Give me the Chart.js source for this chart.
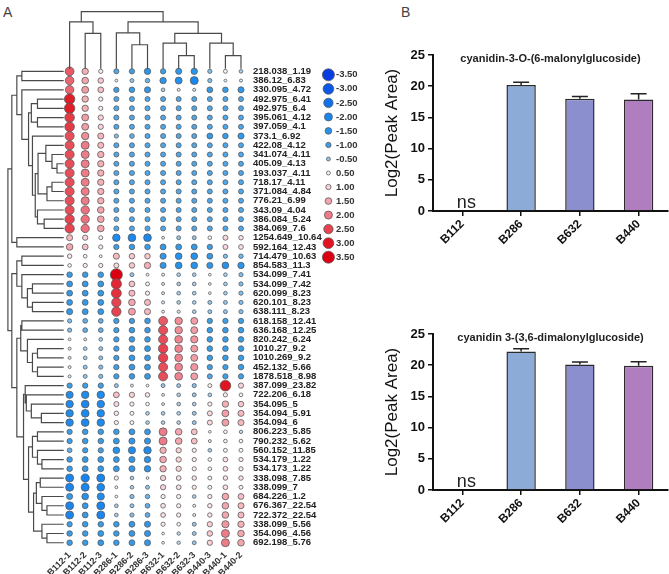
<!DOCTYPE html>
<html>
<head>
<meta charset="utf-8">
<script src="https://cdn.jsdelivr.net/npm/chart.js@4.4.1/dist/chart.umd.min.js"></script>
<style>
  body { margin: 0; background: #fff; width: 669px; height: 574px; position: relative; overflow: hidden; font-family: 'Liberation Sans', Arial, sans-serif; }
  canvas { position: absolute; }
  .panel { position: absolute; font-size: 14px; color: #444; line-height: 14px; }
</style>
</head>
<body>
<div class="panel" style="left:3px;top:5px;">A</div>
<div class="panel" style="left:401px;top:5px;">B</div>
<canvas id="heatChart" width="330" height="574" style="left:0;top:0"></canvas>
<canvas id="legendChart" width="70" height="210" style="left:315px;top:61px"></canvas>
<canvas id="malonylChart" width="287" height="220" style="left:382px;top:40px"></canvas>
<canvas id="dimalonylChart" width="287" height="220" style="left:382px;top:319px"></canvas>
<script>
// muestras (columnas) y metabolitos (filas)
const colLabels = ['B112-1', 'B112-2', 'B112-3', 'B286-1', 'B286-2', 'B286-3', 'B632-1', 'B632-2', 'B632-3', 'B440-3', 'B440-1', 'B440-2'];
const rowLabels = [
    '218.038_1.19', '386.12_6.83', '330.095_4.72', '492.975_6.41', '492.975_6.4', '395.061_4.12', '397.059_4.1',
    '373.1_6.92', '422.08_4.12', '341.074_4.11', '405.09_4.13', '193.037_4.11', '718.17_4.11', '371.084_4.84',
    '776.21_6.99', '343.09_4.04', '386.084_5.24', '384.069_7.6', '1254.649_10.64', '592.164_12.43', '714.479_10.63',
    '854.583_11.3', '534.099_7.41', '534.099_7.42', '620.099_8.23', '620.101_8.23', '638.111_8.23', '618.158_12.41',
    '636.168_12.25', '820.242_6.24', '1010.27_9.2', '1010.269_9.2', '452.132_5.66', '1878.518_8.98', '387.099_23.82',
    '722.206_6.18', '354.095_5', '354.094_5.91', '354.094_6', '806.223_5.85', '790.232_5.62', '560.152_11.85',
    '534.179_1.22', '534.173_1.22', '338.098_7.85', '338.099_7', '684.226_1.2', '676.367_22.54', '722.372_22.54',
    '338.099_5.56', '354.096_4.56', '692.198_5.76'
];

// valores escalados (una fila por metabolito, en el orden de colLabels)
const zScores = [
    [2.3, 1.4, 0.6, -0.9, -1.0, -1.4, -1.0, -1.3, -1.4, -0.6, 0.5, -0.4],
    [2.2, 1.5, 1.1, -0.1, -0.5, -0.7, -1.4, -1.6, -2.0, -0.6, -0.1, -0.2],
    [2.2, 1.6, 1.2, -1.0, -1.1, -1.3, -0.4, -0.15, -0.2, -1.2, -1.1, -1.3],
    [2.9, 1.4, 0.6, -0.9, -0.9, -0.9, -0.9, -0.9, -0.9, -0.9, -0.9, -0.9],
    [2.9, 1.4, 0.6, -0.9, -0.9, -0.9, -0.9, -0.9, -0.9, -0.9, -0.9, -0.9],
    [2.6, 1.6, 1.0, -0.9, -0.9, -0.9, -0.9, -0.9, -0.9, -0.9, -0.9, -0.9],
    [2.6, 1.6, 1.0, -0.9, -0.9, -0.9, -0.9, -0.9, -0.9, -0.9, -0.9, -0.9],
    [2.4, 1.8, 1.3, -0.6, -0.8, -0.9, -0.9, -0.9, -0.9, -1.2, -1.1, -1.3],
    [2.4, 2.0, 1.3, -0.9, -0.9, -0.9, -0.9, -0.9, -0.9, -0.9, -0.9, -0.9],
    [2.4, 2.0, 1.4, -0.9, -0.9, -0.9, -0.9, -0.9, -0.9, -0.9, -0.9, -0.9],
    [2.4, 2.0, 1.4, -0.9, -0.9, -0.9, -0.9, -0.9, -0.9, -0.9, -0.9, -0.9],
    [2.4, 2.0, 1.4, -0.9, -0.9, -0.9, -0.9, -0.9, -0.9, -0.9, -0.9, -0.9],
    [2.4, 2.0, 1.4, -0.9, -0.9, -0.9, -0.9, -0.9, -0.9, -0.9, -0.9, -0.9],
    [2.4, 2.0, 1.4, -0.9, -0.9, -0.9, -0.9, -0.9, -0.9, -0.9, -0.9, -0.9],
    [2.4, 2.0, 1.4, -0.9, -0.9, -0.9, -0.9, -0.9, -0.9, -0.9, -0.9, -0.9],
    [2.4, 2.1, 1.5, -0.9, -0.9, -0.9, -0.9, -0.9, -0.9, -0.9, -0.9, -0.9],
    [2.5, 2.1, 1.5, -0.8, -0.9, -0.9, -0.9, -0.9, -0.9, -0.9, -0.9, -0.9],
    [2.5, 2.1, 1.5, -0.9, -0.9, -0.9, -0.9, -0.9, -0.9, -0.9, -0.9, -0.9],
    [1.3, 1.0, 0.5, -1.8, -1.9, -1.9, -0.1, -0.5, -0.5, 0.4, 0.9, 0.7],
    [1.5, 1.2, 0.6, -1.0, -1.1, -1.1, -1.2, -1.2, -1.2, -1.0, 0.9, 0.8],
    [0.7, 0.4, 0.1, 1.3, 1.1, 1.1, -1.3, -1.5, -1.5, -1.2, -0.6, -0.7],
    [0.4, 0.6, 0.6, 0.9, 1.1, 1.4, -1.3, -1.5, -1.5, -1.3, -1.5, -1.4],
    [-1.1, -1.1, -1.1, 3.5, -0.5, -0.1, -0.15, -0.4, -0.4, -0.05, -0.4, -0.6],
    [-1.2, -1.2, -1.2, 2.8, 1.2, 0.5, -0.15, -0.4, -0.4, -0.05, -0.4, -0.6],
    [-1.2, -1.2, -1.2, 2.7, 1.3, 0.6, -0.15, -0.4, -0.4, -0.05, -0.4, -0.6],
    [-1.2, -1.2, -1.2, 2.5, 1.5, 1.3, -0.2, -0.4, -0.4, -0.5, -0.5, -0.6],
    [-1.3, -1.2, -1.2, 2.5, 1.6, 1.3, -0.1, -0.2, -0.4, -0.5, -0.5, -0.6],
    [-0.6, -0.8, -0.8, -1.0, -1.0, -1.1, 2.3, 1.8, 1.6, -1.0, -1.0, -1.0],
    [-0.6, -0.8, -0.8, -1.0, -1.1, -1.1, 2.4, 1.8, 1.6, -1.1, -1.1, -1.1],
    [-0.05, -0.15, -0.4, -1.0, -1.1, -1.1, 2.4, 1.9, 1.7, -1.1, -1.1, -1.1],
    [-0.15, -0.4, -0.5, -1.0, -1.2, -1.2, 2.5, 1.9, 1.6, -1.1, -1.1, -1.1],
    [-0.15, -0.4, -0.5, -1.0, -1.2, -1.2, 2.5, 1.9, 1.6, -1.1, -1.1, -1.1],
    [-0.15, -0.5, -0.6, -1.0, -1.2, -1.2, 2.4, 1.9, 1.7, -1.0, -1.0, -1.1],
    [-0.15, -0.5, -0.6, -1.0, -1.1, -1.2, 2.4, 1.9, 1.6, -0.9, -1.0, -1.0],
    [-1.0, -1.0, -1.0, -0.5, -0.15, -0.05, -0.5, -0.5, -0.6, 0.5, 3.0, 1.0],
    [-1.7, -1.8, -1.8, 1.2, 1.0, 0.7, -0.1, -0.4, -0.5, -0.4, 0.6, 0.4],
    [-1.8, -1.9, -1.8, 0.9, 0.6, 0.4, -0.1, -0.4, -0.4, 0.6, 1.4, 1.1],
    [-1.8, -1.9, -1.8, 0.7, 0.5, -0.4, -0.4, -0.4, -0.5, 0.9, 1.6, 1.3],
    [-1.8, -1.9, -1.8, 0.6, 0.5, -0.4, -0.4, -0.4, -0.5, 0.9, 1.6, 1.3],
    [-1.0, -1.1, -1.1, -1.1, -1.2, -1.2, 2.0, 1.5, 1.2, 0.05, 0.4, -0.3],
    [-1.0, -1.1, -1.1, -1.2, -1.3, -1.3, 2.0, 1.5, 1.2, -0.15, 0.4, 0.4],
    [-0.8, -1.0, -1.0, -1.5, -1.7, -1.8, 1.4, 1.0, 0.6, -0.4, 0.5, 0.5],
    [-1.1, -1.2, -1.2, -1.2, -1.3, -1.4, 1.5, 1.0, 0.6, 0.4, 0.8, 0.6],
    [-1.1, -1.2, -1.2, -1.2, -1.3, -1.4, 1.4, 1.0, 0.6, 0.4, 0.8, 0.6],
    [-2.0, -2.1, -2.0, 0.6, -0.4, -0.05, 1.0, 0.8, 0.7, 0.5, 0.7, 0.7],
    [-2.0, -2.0, -1.9, -0.1, -0.4, -0.5, 1.0, 0.8, 0.6, 0.5, 0.8, 0.5],
    [-1.3, -1.5, -1.7, -0.1, -0.6, -0.7, 0.6, 0.6, -0.4, 0.6, 1.5, 1.2],
    [-2.0, -1.2, -2.0, -0.4, -0.5, -0.8, 0.8, 0.6, -0.15, 0.7, 1.5, 1.3],
    [-2.0, -1.2, -2.0, -0.4, -0.6, -0.8, 0.8, 0.6, -0.15, 0.7, 1.5, 1.3],
    [-1.0, -1.1, -1.1, -1.1, -1.2, -1.3, 0.6, 0.4, -0.5, 1.0, 1.7, 1.4],
    [-1.1, -1.1, -1.2, -1.1, -1.2, -1.3, -0.05, -0.3, -0.5, 1.1, 2.0, 1.5],
    [-1.1, -1.1, -1.2, -1.1, -1.2, -1.3, -0.05, -0.3, -0.5, 1.0, 2.0, 1.5]
];

const legendValues = [-3.5, -3, -2.5, -2, -1.5, -1, -0.5, 0.5, 1, 1.5, 2, 2.5, 3, 3.5];

// árboles de agrupamiento: [altura, izquierda, derecha], hojas = índice
const rowTree = [10,
    [9.3,
        [8.4,
            [7.5, 0, 1],
            [7.5, 2,
                [6.3,
                    [5.8, [4.7, 3, 4], [4.7, 5, 6]],
                    [5.6, 7,
                        [5.1,
                            [4.6,
                                [3.2, 8, [2.1, 9, [1.2, 10, 11]]],
                                [3.0, [2.1, 12, 13], 14]],
                            [4.7, 15, [3.5, 16, 17]]]]]]],
        [8.4, 18, 19]],
    [9.3,
        [8.4,
            [7.5, 20, 21],
            [7.5, 22, [6.5, [5.6, 23, 24], [5.6, 25, 26]]]],
        [8.4,
            [7.7, [7.5, 27, 28], [6.5, 29, [5.6, [4.7, 30, 31], [4.7, 32, 33]]]],
            [7.2,
                [6.9, 34, [6.7, 35, [5.8, 36, [4.0, 37, 38]]]],
                [6.3,
                    [5.6, [4.7, 39, 40], [4.7, 41, [3.9, 42, 43]]],
                    [5.4,
                        [4.9, [4.2, 44, 45], [3.9, 46, [3.0, 47, 48]]],
                        [3.9, 49, [3.0, 50, 51]]]]]]]];
const colTree = [10,
    [8.2, 0, [6.2, 1, 2]],
    [8.2, [6.3, 3, [4.2, 4, 5]], [6.2, [4.5, 6, [2.3, 7, 8]], [4.5, 9, [2.3, 10, 11]]]]];

// panel B
const barGroups = ['B112', 'B286', 'B632', 'B440'];
const malonylMeans = [0, 20.2, 18.0, 17.85];
const malonylErrors = [0, 0.45, 0.35, 0.95];
const dimalonylMeans = [0, 22.2, 20.1, 19.9];
const dimalonylErrors = [0, 0.45, 0.4, 0.65];

Chart.defaults.font.family = "'Liberation Sans', Arial, sans-serif";
Chart.defaults.color = '#222';

const negRamp = ['#ffffff', '#8fc7f1', '#3d9fe8', '#2593ee', '#1985ee', '#1071ec', '#0b57e6', '#0a3ddf'];
const posRamp = ['#ffffff', '#fdf3f4', '#f9d1d6', '#f4a6ae', '#ee7c88', '#e6424f', '#e01320', '#db0011'];
const barColors = ['#8cabd7', '#8cabd7', '#8b8fcd', '#b07dbf'];

function mixHex(a, b, t) {
    const pa = [1, 3, 5].map(i => parseInt(a.substr(i, 2), 16));
    const pb = [1, 3, 5].map(i => parseInt(b.substr(i, 2), 16));
    return 'rgb(' + pa.map((c, i) => Math.round(c + (pb[i] - c) * t)).join(',') + ')';
}

function bubbleColor(v) {
    const ramp = v < 0 ? negRamp : posRamp;
    const t = Math.min(Math.abs(v), 3.5) / 0.5;
    const i = Math.min(Math.floor(t), ramp.length - 2);
    return mixHex(ramp[i], ramp[i + 1], t - i);
}

function bubbleRadius(v) {
    return 1.3 + 1.35 * Math.abs(v);
}

// convierte el árbol en una polilínea con cortes (NaN) entre uniones
function dendroSegments(tree, toPoint) {
    const pts = [];
    function walk(node) {
        if (typeof node === 'number') return { pos: node, h: 0 };
        const a = walk(node[1]), b = walk(node[2]), h = node[0];
        pts.push(toPoint(a.pos, a.h), toPoint(a.pos, h), toPoint(b.pos, h), toPoint(b.pos, b.h), { x: NaN, y: NaN });
        return { pos: (a.pos + b.pos) / 2, h: h };
    }
    walk(tree);
    return pts;
}

const bubblePoints = [];
zScores.forEach((row, r) => {
    row.forEach((v, c) => {
        bubblePoints.push({ x: c, y: r, r: bubbleRadius(v), v: v });
    });
});

const dendroStyle = { type: 'line', borderColor: '#4a4a4a', borderWidth: 1.2, pointRadius: 0, fill: false, tension: 0 };

new Chart(document.getElementById('heatChart'), {
    type: 'bubble',
    data: {
        datasets: [
            Object.assign({ data: dendroSegments(rowTree, (p, h) => ({ x: -0.38 - h * 0.358, y: p })) }, dendroStyle),
            Object.assign({ data: dendroSegments(colTree, (p, h) => ({ x: p, y: -0.29 - h * 0.616 })) }, dendroStyle),
            {
                data: bubblePoints,
                backgroundColor: ctx => bubbleColor(ctx.raw.v),
                borderColor: '#5a5a5a',
                borderWidth: 0.8
            }
        ]
    },
    options: {
        responsive: false,
        animation: false,
        events: [],
        layout: { padding: { left: 2, top: 1, right: 0, bottom: 0 } },
        plugins: { legend: { display: false }, tooltip: { enabled: false } },
        scales: {
            x: {
                type: 'linear', min: -4.03, max: 11.45,
                grid: { display: false, drawTicks: false },
                border: { display: false },
                afterBuildTicks: s => { s.ticks = colLabels.map((_, i) => ({ value: i })); },
                afterFit: s => { s.height = 26; },
                ticks: {
                    autoSkip: false, minRotation: 45, maxRotation: 45, padding: 2,
                    font: { size: 9, weight: 'bold' }, color: '#333',
                    callback: v => colLabels[v]
                }
            },
            y: {
                type: 'linear', position: 'right', reverse: true, min: -6.56, max: 51.57,
                grid: { display: false, drawTicks: false },
                border: { display: false },
                afterBuildTicks: s => { s.ticks = rowLabels.map((_, i) => ({ value: i })); },
                afterFit: s => { s.width = 82; },
                ticks: {
                    autoSkip: false, padding: 5,
                    font: { size: 9.5, weight: 'bold' }, color: '#222',
                    callback: v => rowLabels[v]
                }
            }
        }
    }
});

new Chart(document.getElementById('legendChart'), {
    type: 'bubble',
    data: {
        datasets: [{
            data: legendValues.map((v, i) => ({ x: 0, y: i, r: bubbleRadius(v), v: v })),
            backgroundColor: ctx => bubbleColor(ctx.raw.v),
            borderColor: '#5a5a5a',
            borderWidth: 0.8
        }]
    },
    options: {
        responsive: false,
        animation: false,
        events: [],
        layout: { padding: 0 },
        plugins: { legend: { display: false }, tooltip: { enabled: false } },
        scales: {
            x: { display: false, min: -1, max: 1 },
            y: {
                position: 'right', reverse: true, min: -0.5, max: 13.5,
                grid: { display: false, drawTicks: false },
                border: { display: false },
                afterBuildTicks: s => { s.ticks = legendValues.map((_, i) => ({ value: i })); },
                afterFit: s => { s.width = 50; },
                ticks: {
                    autoSkip: false, padding: 1,
                    font: { size: 9.5, weight: 'bold' }, color: '#333',
                    callback: v => legendValues[v].toFixed(2)
                }
            }
        }
    }
});

function makeBarChart(id, title, means, errors) {
    const barExtras = {
        id: 'barExtras',
        afterDatasetsDraw(chart) {
            const ctx = chart.ctx, x = chart.scales.x, y = chart.scales.y, area = chart.chartArea;
            ctx.save();
            ctx.strokeStyle = '#222';
            ctx.lineWidth = 1.5;
            means.forEach((m, i) => {
                if (!errors[i]) return;
                const cx = x.getPixelForValue(i);
                const top = y.getPixelForValue(m);
                const cap = y.getPixelForValue(m + errors[i]);
                ctx.beginPath();
                ctx.moveTo(cx, top);
                ctx.lineTo(cx, cap);
                ctx.moveTo(cx - 8, cap);
                ctx.lineTo(cx + 8, cap);
                ctx.stroke();
            });
            ctx.fillStyle = '#222';
            ctx.textAlign = 'center';
            ctx.textBaseline = 'alphabetic';
            ctx.font = "18px 'Liberation Sans', Arial, sans-serif";
            means.forEach((m, i) => {
                if (m === 0) ctx.fillText('ns', x.getPixelForValue(i) + 4, y.getPixelForValue(0) - 3);
            });
            ctx.font = "bold 11px 'Liberation Sans', Arial, sans-serif";
            ctx.textBaseline = 'middle';
            ctx.fillText(title, (area.left + area.right) / 2, area.top + 4);
            ctx.restore();
        }
    };

    new Chart(document.getElementById(id), {
        type: 'bar',
        data: {
            labels: barGroups,
            datasets: [{
                data: means,
                backgroundColor: barColors,
                borderColor: '#2b2b2b',
                borderWidth: 1.5,
                barPercentage: 0.5,
                categoryPercentage: 1
            }]
        },
        options: {
            responsive: false,
            animation: false,
            events: [],
            layout: { padding: { top: 15, right: 1, left: 0, bottom: 0 } },
            plugins: { legend: { display: false }, tooltip: { enabled: false } },
            scales: {
                x: {
                    grid: { display: true, drawOnChartArea: false, offset: false, tickLength: 5, color: '#111', lineWidth: 1.5 },
                    border: { color: '#111', width: 2 },
                    afterFit: s => { s.height = 49; },
                    ticks: { minRotation: 45, maxRotation: 45, padding: 1, color: '#111', font: { size: 12, weight: 'bold' } }
                },
                y: {
                    min: 0, max: 25,
                    ticks: { stepSize: 5, color: '#111', font: { size: 13, weight: 'bold' }, padding: 3 },
                    grid: { drawOnChartArea: false, tickLength: 5, color: '#111', lineWidth: 1.5 },
                    border: { color: '#111', width: 2 },
                    afterFit: s => { s.width = 51; },
                    title: { display: true, text: 'Log2(Peak Area)', font: { size: 17 }, color: '#111', padding: 0 }
                }
            }
        },
        plugins: [barExtras]
    });
}

makeBarChart('malonylChart', 'cyanidin-3-O-(6-malonylglucoside)', malonylMeans, malonylErrors);
makeBarChart('dimalonylChart', 'cyanidin 3-(3,6-dimalonylglucoside)', dimalonylMeans, dimalonylErrors);
</script>
</body>
</html>
